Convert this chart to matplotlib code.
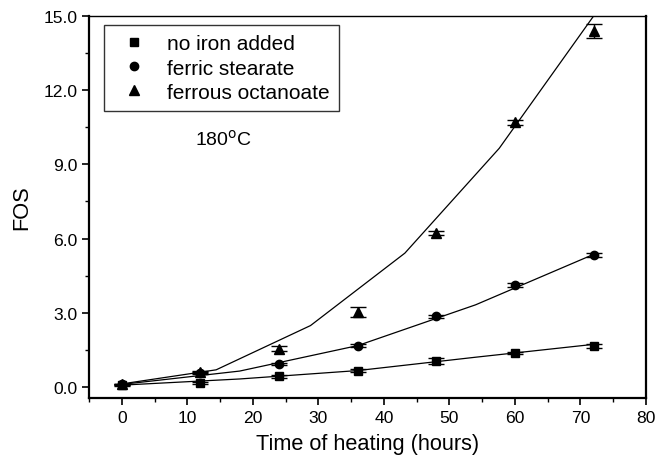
import matplotlib
matplotlib.use("Agg")
import matplotlib.pyplot as plt
from matplotlib.ticker import MultipleLocator, FormatStrFormatter
from matplotlib.lines import Line2D

plt.rcParams['font.family'] = ['Liberation Sans', 'DejaVu Sans']

time_h = [0, 12, 24, 36, 48, 60, 72]

no_iron = [0.08, 0.15, 0.42, 0.66, 1.05, 1.37, 1.66]
no_iron_err = [0.03, 0.04, 0.05, 0.05, 0.13, 0.06, 0.08]

ferric = [0.1, 0.57, 0.92, 1.67, 2.86, 4.12, 5.34]
ferric_err = [0.03, 0.05, 0.05, 0.07, 0.06, 0.07, 0.07]

ferrous = [0.1, 0.6, 1.54, 3.02, 6.22, 10.7, 14.4]
ferrous_err = [0.03, 0.05, 0.1, 0.2, 0.08, 0.1, 0.29]

fit_no_iron_x = [0, 18, 36, 54, 72]
fit_no_iron_y = [0.07, 0.32, 0.66, 1.2, 1.72]
fit_ferric_x = [0, 18, 36, 54, 72]
fit_ferric_y = [0.1, 0.64, 1.67, 3.32, 5.36]
fit_ferrous_x = [0, 14.4, 28.8, 43.2, 57.6, 72]
fit_ferrous_y = [0.12, 0.69, 2.48, 5.41, 9.65, 15.0]

labels = ['no iron added', 'ferric stearate', 'ferrous octanoate']

fig = plt.figure(figsize=(6.56, 4.6), dpi=100)
ax = fig.add_axes([0.1357, 0.1326, 0.8491, 0.8304])

ax.plot(fit_no_iron_x, fit_no_iron_y, color='black', lw=0.9)
ax.plot(fit_ferric_x, fit_ferric_y, color='black', lw=0.9)
ax.plot(fit_ferrous_x, fit_ferrous_y, color='black', lw=0.9)

ekw = dict(color='black', ecolor='black', elinewidth=1.0, capsize=6, capthick=1.0, linestyle='none')
ax.errorbar(time_h, no_iron, yerr=no_iron_err, marker='s', markersize=5.5, **ekw)
ax.errorbar(time_h, ferric, yerr=ferric_err, marker='o', markersize=6, **ekw)
ax.errorbar(time_h, ferrous, yerr=ferrous_err, marker='^', markersize=6.5, **ekw)

ax.set_xlim(-5, 80)
ax.set_ylim(-0.45, 15.0)
ax.xaxis.set_major_locator(MultipleLocator(10))
ax.xaxis.set_minor_locator(MultipleLocator(5))
ax.yaxis.set_major_locator(MultipleLocator(3))
ax.yaxis.set_minor_locator(MultipleLocator(1.5))
ax.yaxis.set_major_formatter(FormatStrFormatter('%.1f'))
ax.tick_params(axis='both', which='major', direction='out', length=5, width=1.2, labelsize=12.6)
ax.tick_params(axis='both', which='minor', direction='out', length=3, width=1.0)

for s in ['left', 'bottom', 'right']:
    ax.spines[s].set_linewidth(1.6)
ax.spines['top'].set_linewidth(1.0)

ax.set_xlabel('Time of heating (hours)', fontsize=15.7, labelpad=6)
ax.set_ylabel('FOS', fontsize=15.7, labelpad=8)

handles = [Line2D([], [], color='black', marker='s', linestyle='none', markersize=5.5),
           Line2D([], [], color='black', marker='o', linestyle='none', markersize=6),
           Line2D([], [], color='black', marker='^', linestyle='none', markersize=6.5)]
leg = ax.legend(handles, labels, loc='upper left', bbox_to_anchor=(0.027, 0.9765),
                borderaxespad=0, fontsize=15, frameon=True, fancybox=False,
                edgecolor='black', handletextpad=0.55, borderpad=0.45,
                labelspacing=0.25, handlelength=2.0)
leg.get_frame().set_linewidth(1.0)

ax.text(0.19, 0.68, '180$^{\\mathrm{o}}$C', transform=ax.transAxes, fontsize=14,
        va='center', ha='left')

fig.savefig('out.png', dpi=100)
